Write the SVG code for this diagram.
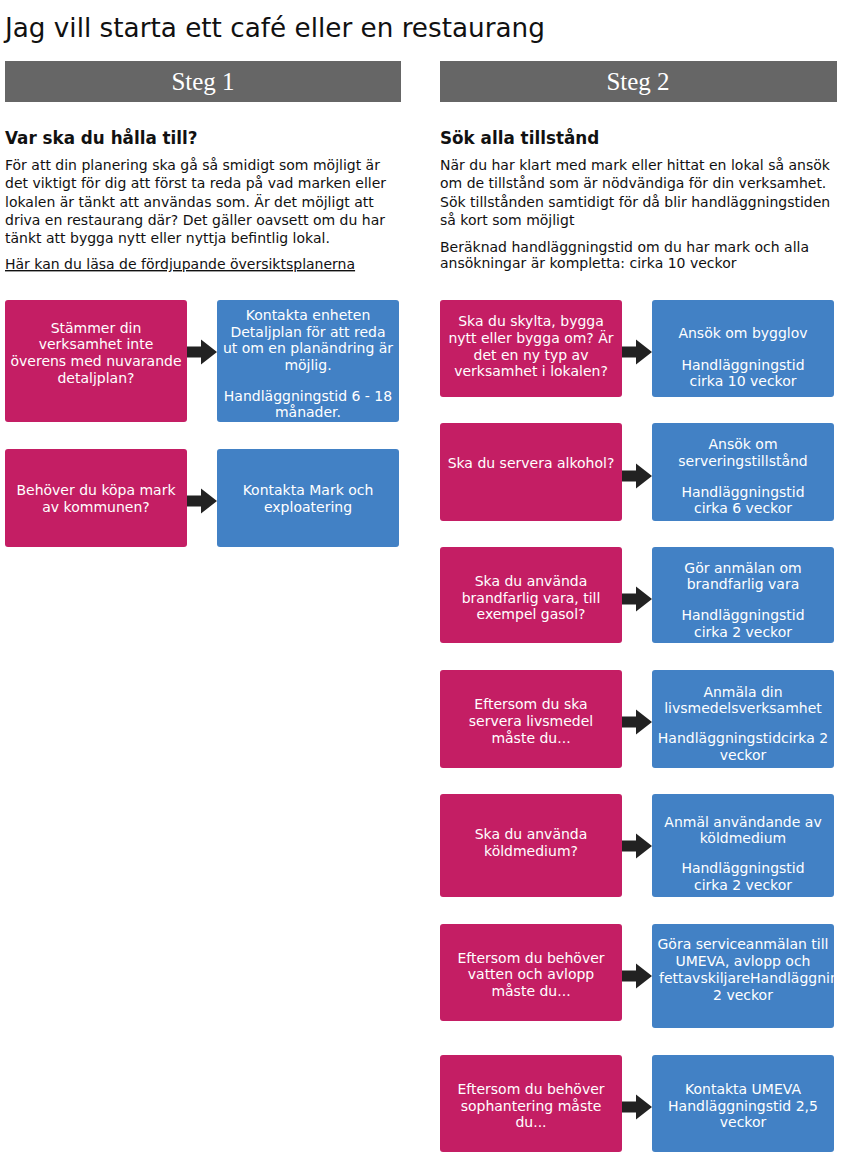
<svg xmlns="http://www.w3.org/2000/svg" width="843" height="1154" viewBox="0 0 843 1154">
<style>
.title{font-family:"DejaVu Sans",Verdana,sans-serif;font-size:26.25px;fill:#111}
.steg{font-family:"Liberation Serif","Times New Roman",serif;font-size:25px;fill:#fff;text-anchor:middle}
.bar{fill:#666}
.h{font-family:"DejaVu Sans",Verdana,sans-serif;font-size:16.8px;font-weight:bold;fill:#111}
.body{font-family:"DejaVu Sans",Verdana,sans-serif;font-size:14px;fill:#111}
.q{fill:#C41E64}
.a{fill:#4281C5}
.t{font-family:"DejaVu Sans",Verdana,sans-serif;font-size:14px;fill:#fff;text-anchor:middle}
.ts{font-family:"DejaVu Sans",Verdana,sans-serif;font-size:14px;fill:#fff}
.arr{fill:#222}
</style>
<defs>
<path id="arrow" d="M0,-5.5 H14 V-12.5 L30,0 L14,12.5 V5.5 H0 Z"/>
<clipPath id="clip6"><rect x="652" y="924" width="182" height="104"/></clipPath>
</defs>

<g id="header">
<text class="title" x="5" y="37">Jag vill starta ett café eller en restaurang</text>
<rect class="bar" x="5" y="61" width="396" height="41"/>
<text class="steg" x="203" y="90">Steg 1</text>
<rect class="bar" x="440" y="61" width="397" height="41"/>
<text class="steg" x="638" y="90">Steg 2</text>
</g>

<g id="intro1">
<text class="h" x="5" y="144">Var ska du hålla till?</text>
<text class="body" x="5" y="170">För att din planering ska gå så smidigt som möjligt är</text>
<text class="body" x="5" y="188">det viktigt för dig att först ta reda på vad marken eller</text>
<text class="body" x="5" y="207">lokalen är tänkt att användas som. Är det möjligt att</text>
<text class="body" x="5" y="225">driva en restaurang där? Det gäller oavsett om du har</text>
<text class="body" x="5" y="243">tänkt att bygga nytt eller nyttja befintlig lokal.</text>
<text class="body" x="5" y="269" text-decoration="underline">Här kan du läsa de fördjupande översiktsplanerna</text>
</g>

<g id="intro2">
<text class="h" x="440" y="144">Sök alla tillstånd</text>
<text class="body" x="440" y="170">När du har klart med mark eller hittat en lokal så ansök</text>
<text class="body" x="440" y="188">om de tillstånd som är nödvändiga för din verksamhet.</text>
<text class="body" x="440" y="207">Sök tillstånden samtidigt för då blir handläggningstiden</text>
<text class="body" x="440" y="225">så kort som möjligt</text>
<text class="body" x="440" y="252">Beräknad handläggningstid om du har mark och alla</text>
<text class="body" x="440" y="268">ansökningar är kompletta: cirka 10 veckor</text>
</g>

<g id="connectors">
<use href="#arrow" class="arr" x="187" y="352"/>
<use href="#arrow" class="arr" x="187" y="501"/>
<use href="#arrow" class="arr" x="622" y="352"/>
<use href="#arrow" class="arr" x="622" y="476"/>
<use href="#arrow" class="arr" x="622" y="599"/>
<use href="#arrow" class="arr" x="622" y="722"/>
<use href="#arrow" class="arr" x="622" y="846"/>
<use href="#arrow" class="arr" x="622" y="976"/>
<use href="#arrow" class="arr" x="622" y="1107"/>
</g>

<g id="q1">
<rect class="q" x="5" y="300" width="182" height="122" rx="3"/>
<text class="t" x="96" y="333">Stämmer din</text>
<text class="t" x="96" y="349">verksamhet inte</text>
<text class="t" x="96" y="366">överens med nuvarande</text>
<text class="t" x="96" y="383">detaljplan?</text>
</g>
<g id="a1">
<rect class="a" x="217" y="300" width="182" height="122" rx="3"/>
<text class="t" x="308" y="320">Kontakta enheten</text>
<text class="t" x="308" y="337">Detaljplan för att reda</text>
<text class="t" x="308" y="353">ut om en planändring är</text>
<text class="t" x="308" y="370">möjlig.</text>
<text class="t" x="308" y="401">Handläggningstid 6 - 18</text>
<text class="t" x="308" y="417">månader.</text>
</g>
<g id="q2">
<rect class="q" x="5" y="449" width="182" height="98" rx="3"/>
<text class="t" x="96" y="495">Behöver du köpa mark</text>
<text class="t" x="96" y="512">av kommunen?</text>
</g>
<g id="a2">
<rect class="a" x="217" y="449" width="182" height="98" rx="3"/>
<text class="t" x="308" y="495">Kontakta Mark och</text>
<text class="t" x="308" y="512">exploatering</text>
</g>

<g id="r1q">
<rect class="q" x="440" y="300" width="182" height="97" rx="3"/>
<text class="t" x="531" y="326">Ska du skylta, bygga</text>
<text class="t" x="531" y="343">nytt eller bygga om? Är</text>
<text class="t" x="531" y="360">det en ny typ av</text>
<text class="t" x="531" y="376">verksamhet i lokalen?</text>
</g>
<g id="r1a">
<rect class="a" x="652" y="300" width="182" height="97" rx="3"/>
<text class="t" x="743" y="338">Ansök om bygglov</text>
<text class="t" x="743" y="370">Handläggningstid</text>
<text class="t" x="743" y="386">cirka 10 veckor</text>
</g>

<g id="r2q">
<rect class="q" x="440" y="423" width="182" height="98" rx="3"/>
<text class="t" x="531" y="468">Ska du servera alkohol?</text>
</g>
<g id="r2a">
<rect class="a" x="652" y="423" width="182" height="98" rx="3"/>
<text class="t" x="743" y="449">Ansök om</text>
<text class="t" x="743" y="466">serveringstillstånd</text>
<text class="t" x="743" y="497">Handläggningstid</text>
<text class="t" x="743" y="513">cirka 6 veckor</text>
</g>

<g id="r3q">
<rect class="q" x="440" y="547" width="182" height="96" rx="3"/>
<text class="t" x="531" y="586">Ska du använda</text>
<text class="t" x="531" y="603">brandfarlig vara, till</text>
<text class="t" x="531" y="619">exempel gasol?</text>
</g>
<g id="r3a">
<rect class="a" x="652" y="547" width="182" height="96" rx="3"/>
<text class="t" x="743" y="573">Gör anmälan om</text>
<text class="t" x="743" y="589">brandfarlig vara</text>
<text class="t" x="743" y="620">Handläggningstid</text>
<text class="t" x="743" y="637">cirka 2 veckor</text>
</g>

<g id="r4q">
<rect class="q" x="440" y="670" width="182" height="98" rx="3"/>
<text class="t" x="531" y="709">Eftersom du ska</text>
<text class="t" x="531" y="726">servera livsmedel</text>
<text class="t" x="531" y="743">måste du...</text>
</g>
<g id="r4a">
<rect class="a" x="652" y="670" width="182" height="98" rx="3"/>
<text class="t" x="743" y="697">Anmäla din</text>
<text class="t" x="743" y="713">livsmedelsverksamhet</text>
<text class="t" x="743" y="743">Handläggningstidcirka 2</text>
<text class="t" x="743" y="760">veckor</text>
</g>

<g id="r5q">
<rect class="q" x="440" y="794" width="182" height="103" rx="3"/>
<text class="t" x="531" y="839">Ska du använda</text>
<text class="t" x="531" y="856">köldmedium?</text>
</g>
<g id="r5a">
<rect class="a" x="652" y="794" width="182" height="103" rx="3"/>
<text class="t" x="743" y="827">Anmäl användande av</text>
<text class="t" x="743" y="843">köldmedium</text>
<text class="t" x="743" y="873">Handläggningstid</text>
<text class="t" x="743" y="890">cirka 2 veckor</text>
</g>

<g id="r6q">
<rect class="q" x="440" y="924" width="182" height="97" rx="3"/>
<text class="t" x="531" y="963">Eftersom du behöver</text>
<text class="t" x="531" y="979">vatten och avlopp</text>
<text class="t" x="531" y="996">måste du...</text>
</g>
<g id="r6a">
<rect class="a" x="652" y="924" width="182" height="104" rx="3"/>
<g clip-path="url(#clip6)">
<text class="t" x="743" y="949">Göra serviceanmälan till</text>
<text class="t" x="743" y="966">UMEVA, avlopp och</text>
<text class="ts" x="659" y="983">fettavskiljareHandläggningstid</text>
<text class="t" x="743" y="1000">2 veckor</text>
</g>
</g>

<g id="r7q">
<rect class="q" x="440" y="1055" width="182" height="97" rx="3"/>
<text class="t" x="531" y="1094">Eftersom du behöver</text>
<text class="t" x="531" y="1111">sophantering måste</text>
<text class="t" x="531" y="1127">du...</text>
</g>
<g id="r7a">
<rect class="a" x="652" y="1055" width="182" height="97" rx="3"/>
<text class="t" x="743" y="1094">Kontakta UMEVA</text>
<text class="t" x="743" y="1111">Handläggningstid 2,5</text>
<text class="t" x="743" y="1127">veckor</text>
</g>
</svg>
